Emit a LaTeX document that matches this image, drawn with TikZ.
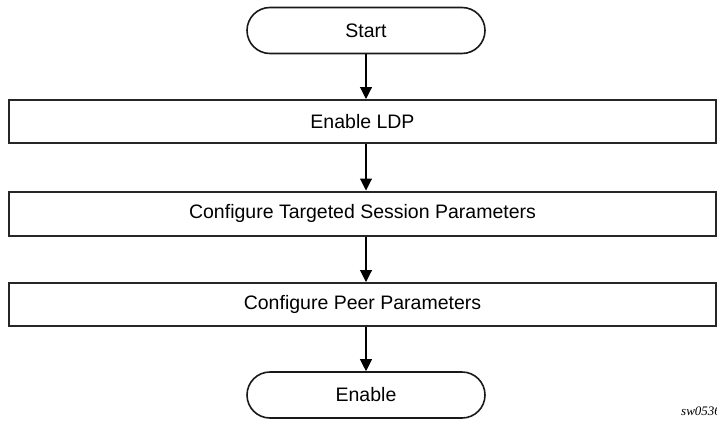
\documentclass[tikz,border=0pt]{standalone}
\usepackage{fontspec}
\setmainfont{Liberation Sans}
\newfontfamily\serifit{Liberation Serif}
\usetikzlibrary{arrows.meta}
\begin{document}
\begin{tikzpicture}[x=1pt,y=-1pt,
  term/.style={draw=black!90, line width=1.6pt, rounded corners=23pt, minimum width=238pt, minimum height=46pt, inner sep=0pt, font=\fontsize{19.5}{22}\selectfont},
  stepbox/.style={draw=black!85, line width=2pt, minimum width=707pt, minimum height=43pt, inner sep=0pt, font=\fontsize{19.5}{22}\selectfont},
  arr/.style={line width=1.1pt, -{Triangle[width=12pt,length=12pt]}}]
\useasboundingbox (0,0) rectangle (717,428);
\node[term] (start) at (366,30.5) {Start};
\node[stepbox] (b1) at (362.5,121.5) {Enable LDP};
\node[stepbox, minimum height=44pt] (b2) at (362.5,213.5) {Configure Targeted Session Parameters};
\node[stepbox] (b3) at (362.5,304.5) {Configure Peer Parameters};
\node[term] (end) at (366,395) {Enable};
\draw[arr] (start.south) -- (start.south |- b1.north);
\draw[arr] (start.south |- b1.south) -- (start.south |- b2.north);
\draw[arr] (start.south |- b2.south) -- (start.south |- b3.north);
\draw[arr] (start.south |- b3.south) -- (end.north);
\node[anchor=base west, inner sep=0pt, font=\serifit\itshape\fontsize{13}{15}\selectfont] (lbl) at (681,415) {sw0536};
\end{tikzpicture}
\end{document}
